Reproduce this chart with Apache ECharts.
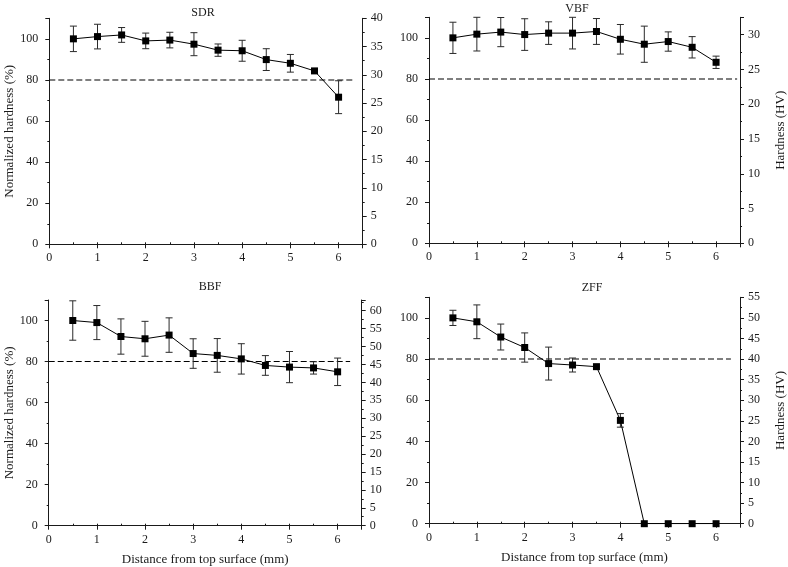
<!DOCTYPE html>
<html><head><meta charset="utf-8">
<script src="https://cdn.jsdelivr.net/npm/echarts@6/dist/echarts.min.js"></script>
<style>html,body{margin:0;padding:0;background:#fff}#c{width:788px;height:567px}</style>
</head><body><div id="c"></div>
<script>
const distance = [0.5, 1, 1.5, 2, 2.5, 3, 3.5, 4, 4.5, 5, 5.5, 6];
const panelTitles = ['SDR', 'VBF', 'BBF', 'ZFF'];
const sdrValues = [100, 101.1, 101.9, 99.0, 99.4, 97.4, 94.5, 94.2, 89.9, 88.1, 84.4, 71.6];
const sdrErrors = [6.2, 6.0, 3.6, 3.8, 3.8, 5.6, 3.0, 5.1, 5.3, 4.3, 0.8, 8.0];
const vbfValues = [100, 101.8, 102.8, 101.6, 102.3, 102.3, 103.1, 99.3, 96.9, 98.2, 95.4, 88.1];
const vbfErrors = [7.6, 8.2, 7.1, 7.7, 5.5, 7.7, 6.3, 7.2, 8.8, 4.7, 5.2, 3.0];
const bbfValues = [100, 99.0, 92.2, 91.1, 92.9, 83.9, 83.0, 81.3, 78.1, 77.3, 76.9, 75.0];
const bbfErrors = [9.6, 8.3, 8.6, 8.5, 8.4, 7.2, 8.2, 7.4, 4.8, 7.6, 3.0, 6.7];
const zffValues = [100, 98.1, 90.7, 85.6, 77.8, 77.1, 76.3, 50.2, 0, 0, 0, 0];
const zffErrors = [3.7, 8.2, 6.3, 7.1, 8.0, 3.4, 0, 3.3, 0, 0, 0, 0];
const thresholdLevel = 80;
const thresholdEnd = [6.3, 6.44, 6.26, 6.31];
const rightAxisMax = [40, 32.5, 63, 55];
const leftTicks = [0, 20, 40, 60, 80, 100];
const xTicks = [0, 1, 2, 3, 4, 5, 6];

const allValues = [sdrValues, vbfValues, bbfValues, zffValues];
const allErrors = [sdrErrors, vbfErrors, bbfErrors, zffErrors];

const FONT = 'Liberation Serif';
const INK = '#1a1a1a';
const grids = [
  {left: 49.3, top: 18.3, width: 313.4, height: 226},
  {left: 429, top: 17.3, width: 313.3, height: 226},
  {left: 48.7, top: 300, width: 313, height: 225.7},
  {left: 429, top: 297.3, width: 313.3, height: 226.4}
];
const titlePos = [[198, 2], [572, -2], [205, 276], [587, 277]];

const option = {
  animation: false,
  backgroundColor: '#fff',
  title: panelTitles.map((t, i) => ({
    text: t, left: titlePos[i][0], top: titlePos[i][1], textAlign: 'center',
    textStyle: {fontFamily: FONT, fontSize: 12, fontWeight: 'normal', color: INK}
  })),
  grid: grids.map(g => Object.assign({containLabel: false}, g)),
  xAxis: [], yAxis: [], series: []
};

const axisLine = {show: true, lineStyle: {color: INK, width: 1}};
function errRender(params, api) {
  const x = api.value(0), lo = api.value(1), hi = api.value(2);
  const p1 = api.coord([x, hi]), p2 = api.coord([x, lo]);
  const w = 3.5;
  const st = {stroke: '#2a2a2a', lineWidth: 1};
  return {type: 'group', children: [
    {type: 'line', shape: {x1: p1[0], y1: p1[1], x2: p2[0], y2: p2[1]}, style: st},
    {type: 'line', shape: {x1: p1[0] - w, y1: p1[1], x2: p1[0] + w, y2: p1[1]}, style: st},
    {type: 'line', shape: {x1: p2[0] - w, y1: p2[1], x2: p2[0] + w, y2: p2[1]}, style: st}
  ]};
}

for (let i = 0; i < 4; i++) {
  const xBase = option.xAxis.length;
  const bottomRow = i >= 2;
  option.xAxis.push({
    type: 'value', gridIndex: i, min: 0, max: 6.5, interval: 1,
    axisLine: axisLine, splitLine: {show: false},
    axisTick: {show: true, length: 4, inside: false, lineStyle: {color: INK}},
    axisLabel: {fontFamily: FONT, fontSize: 12, color: INK, margin: 8,
      formatter: v => (xTicks.indexOf(v) >= 0 ? String(v) : '')},
    name: bottomRow ? 'Distance from top surface (mm)' : '',
    nameLocation: 'middle', nameGap: 27,
    nameTextStyle: {fontFamily: FONT, fontSize: 13, color: INK}
  });
  option.xAxis.push({
    type: 'value', gridIndex: i, min: 0, max: 6.5, interval: 0.5,
    axisLine: {show: false}, splitLine: {show: false},
    axisTick: {show: true, length: 2, lineStyle: {color: INK}},
    axisLabel: {show: false}
  });
  const yBase = option.yAxis.length;
  const leftSide = i % 2 === 0;
  option.yAxis.push({
    type: 'value', gridIndex: i, position: 'left', min: 0, max: 110, interval: 20,
    axisLine: axisLine, splitLine: {show: false},
    axisTick: {show: true, length: 4, lineStyle: {color: INK}},
    axisLabel: {fontFamily: FONT, fontSize: 12, color: INK, margin: 11,
      formatter: v => (leftTicks.indexOf(v) >= 0 ? String(v) : '')},
    name: leftSide ? 'Normalized hardness (%)' : '',
    nameLocation: 'middle', nameGap: 33, nameRotate: 90,
    nameTextStyle: {fontFamily: FONT, fontSize: 13, color: INK}
  });
  option.yAxis.push({
    type: 'value', gridIndex: i, position: 'left', min: 0, max: 110, interval: 10,
    axisLine: {show: false}, splitLine: {show: false},
    axisTick: {show: true, length: 2, lineStyle: {color: INK}},
    axisLabel: {show: false}
  });
  option.yAxis.push({
    type: 'value', gridIndex: i, position: 'right', min: 0, max: rightAxisMax[i], interval: 5,
    axisLine: axisLine, splitLine: {show: false},
    axisTick: {show: true, length: 4, lineStyle: {color: INK}},
    axisLabel: {fontFamily: FONT, fontSize: 12, color: INK, margin: 8,
      formatter: v => (v % 5 === 0 ? String(v) : '')},
    name: leftSide ? '' : 'Hardness (HV)',
    nameLocation: 'middle', nameGap: 34, nameRotate: 90,
    nameTextStyle: {fontFamily: FONT, fontSize: 13, color: INK}
  });
  option.yAxis.push({
    type: 'value', gridIndex: i, position: 'right', min: 0, max: rightAxisMax[i], interval: 2.5,
    axisLine: {show: false}, splitLine: {show: false},
    axisTick: {show: true, length: 2, lineStyle: {color: INK}},
    axisLabel: {show: false}
  });

  const vals = allValues[i], errs = allErrors[i];
  option.series.push({
    type: 'line', xAxisIndex: xBase, yAxisIndex: yBase,
    data: [[0, thresholdLevel], [thresholdEnd[i], thresholdLevel]],
    symbol: 'none', lineStyle: {color: '#000', width: 1.1, type: [6, 3]}, z: 1, silent: true
  });
  const errData = [];
  distance.forEach((d, k) => { if (errs[k] > 0) errData.push([d, vals[k] - errs[k], vals[k] + errs[k]]); });
  option.series.push({
    type: 'custom', xAxisIndex: xBase, yAxisIndex: yBase,
    renderItem: errRender, data: errData, z: 2, silent: true
  });
  option.series.push({
    type: 'line', xAxisIndex: xBase, yAxisIndex: yBase,
    data: distance.map((d, k) => [d, vals[k]]),
    symbol: 'rect', symbolSize: 7, showSymbol: true,
    itemStyle: {color: '#000'}, lineStyle: {color: '#000', width: 1}, z: 3, silent: true
  });
}

const chart = echarts.init(document.getElementById('c'), null, {renderer: 'canvas'});
chart.setOption(option);
</script></body></html>
